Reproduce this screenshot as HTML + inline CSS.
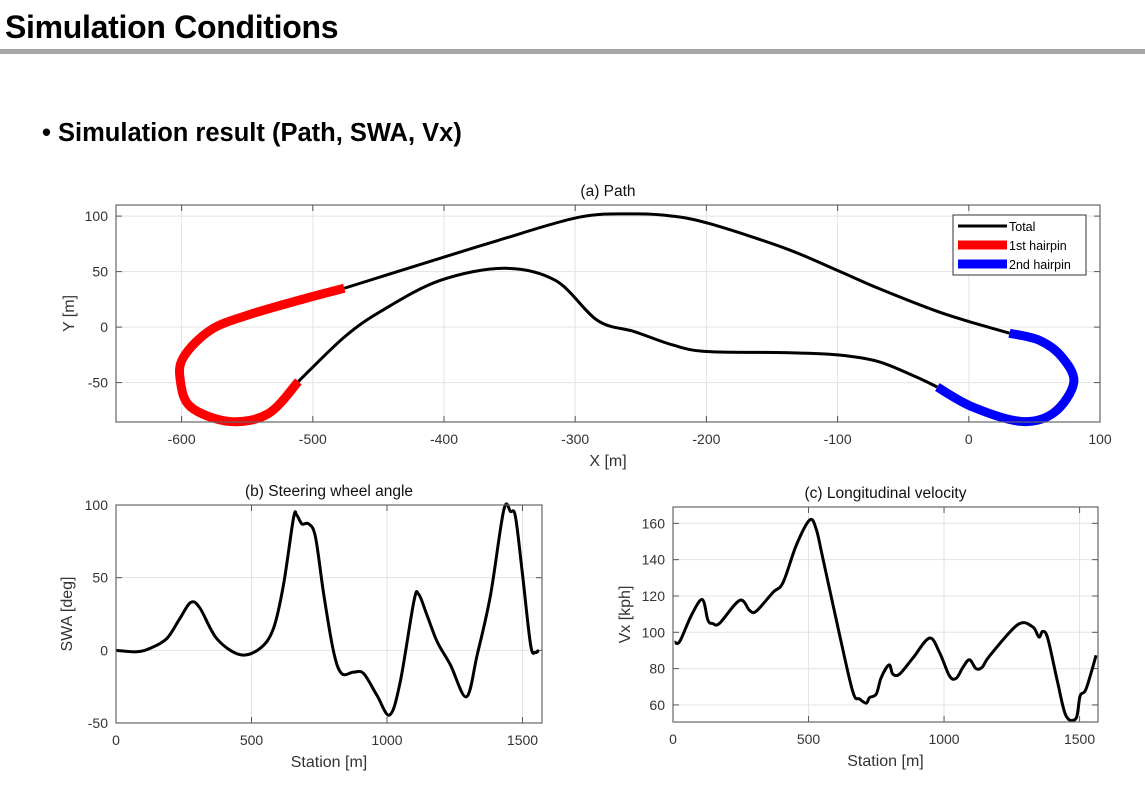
<!DOCTYPE html>
<html><head><meta charset="utf-8">
<style>
body{margin:0;width:1145px;height:806px;background:#fff;overflow:hidden;font-family:"Liberation Sans",Arial,sans-serif;}
#title{position:absolute;left:5px;top:9px;font-size:32px;font-weight:bold;color:#000;letter-spacing:-0.3px}
#bar{position:absolute;left:0;top:49px;width:1145px;height:5px;background:#a6a6a6}
#sub{position:absolute;left:42px;top:119px;font-size:25.5px;font-weight:bold;color:#000}
svg{position:absolute;left:0;top:0}
</style></head><body>
<div id="title">Simulation Conditions</div>
<div id="bar"></div>
<div id="sub">• Simulation result (Path, SWA, Vx)</div>
<svg id="svg" width="1145" height="806"></svg>
<script>
// Path data
const totalX=[0,-26,-69,-100,-140,-197,-226,-255,-297,-359,-403,-476];
const totalY=[5,15,35,51,71,93,100,102,99,78,62,35];
const hp1X=[-476,-505,-549,-578,-598.5,-601,-593,-563.5,-534,-511];
const hp1Y=[35,26,11,-2.7,-27,-48,-72,-85,-78,-49];
const lowerX=[-511,-476,-447,-403,-354,-315,-283,-255,-226,-200,-140,-100,-69,-40,-24];
const lowerY=[-49,-9,15,42,53,42,6,-4,-16,-22,-23,-25,-31,-45,-54];
const hp2X=[-24,3,40,65,80,71,54,31];
const hp2Y=[-54,-72,-85,-77,-50,-27,-12,-5.5];
const tail2X=[31,0];
const tail2Y=[-5.5,5];
const pathXTicks=[-600,-500,-400,-300,-200,-100,0,100];
const pathYTicks=[-50,0,50,100];
// SWA data
const swaS=[0,76,126,187,236,276,310,372,458,532,581,618,655,667,686,711,736,767,803,833,877,914,963,1010,1049,1099,1117,1148,1185,1234,1293,1333,1382,1431,1456,1474,1499,1530,1548,1560];
const swaV=[0,-1,1.4,8,22,33,29,8,-3,1.4,15,45,91,93,87,87,78,38,-1,-16,-15,-16,-31,-44.5,-21.6,33.5,38.6,24,6,-10,-32,-3,38,96.6,95.5,92,54,3.7,-1.4,0];
const swaXTicks=[0,500,1000,1500];
const swaYTicks=[-50,0,50,100];
// Vx data
const vxS=[6,25,68,108,129,147,172,246,283,307,369,406,455,504,528,553,615,664,688,713,725,750,768,797,811,836,885,946,983,1020,1045,1070,1094,1118,1141,1168,1272,1327,1350,1364,1383,1419,1450,1487,1502,1524,1561];
const vxV=[94.6,95,109.4,118,106.6,104.8,105,117.6,112,111.6,122,127.4,148,161.8,157,140.7,98.3,67,63.3,61,64,66,75,82,77,77,85.8,96.8,89,76,74.7,80.8,84.9,80,80.8,87,104.2,103,97.4,100.5,96.5,72.5,54,52.6,65,68.8,87.3];
const vxXTicks=[0,500,1000,1500];
const vxYTicks=[60,80,100,120,140,160];

const svg=document.getElementById('svg');
const NS='http://www.w3.org/2000/svg';
function mk(tag,attrs,parent){const e=document.createElementNS(NS,tag);for(const k in attrs)e.setAttribute(k,attrs[k]);(parent||svg).appendChild(e);return e;}
function axes(o){
  const g=mk('g',{});
  
  
  const sx=v=>o.l+(v-o.x0)/(o.x1-o.x0)*(o.r-o.l);
  const sy=v=>o.b-(v-o.y0)/(o.y1-o.y0)*(o.b-o.t);
  mk('rect',{x:o.l,y:o.t,width:o.r-o.l,height:o.b-o.t,fill:'#fff'},g);
  o.xt.forEach(v=>{const x=sx(v);
    const gl=mk('line',{x1:x,x2:x,y1:o.t,y2:o.b,stroke:'#e3e3e3','stroke-width':1},g);
    
    mk('line',{x1:x,x2:x,y1:o.b,y2:o.b-6,stroke:'#555'},g);
    mk('line',{x1:x,x2:x,y1:o.t,y2:o.t+6,stroke:'#555'},g);
    const t=mk('text',{x:x,y:o.b+22,'text-anchor':'middle','font-size':14,fill:'#333'},g);t.textContent=v;
    });
  o.yt.forEach(v=>{const y=sy(v);
    const gl=mk('line',{x1:o.l,x2:o.r,y1:y,y2:y,stroke:'#e3e3e3','stroke-width':1},g);
    
    mk('line',{x1:o.l,x2:o.l+6,y1:y,y2:y,stroke:'#555'},g);
    mk('line',{x1:o.r,x2:o.r-6,y1:y,y2:y,stroke:'#555'},g);
    const t=mk('text',{x:o.l-8,y:y+5,'text-anchor':'end','font-size':14,fill:'#333'},g);t.textContent=v;
    });
  const tt=mk('text',{x:(o.l+o.r)/2,y:o.t-9,'text-anchor':'middle','font-size':15.5,fill:'#111'},g);tt.textContent=o.title;
  
  const xl=mk('text',{x:(o.l+o.r)/2,y:o.b+44,'text-anchor':'middle','font-size':16,fill:'#333'},g);xl.textContent=o.xl;
  
  const cy=(o.t+o.b)/2;
  const yl=mk('text',{x:o.ylx,y:cy,'text-anchor':'middle','font-size':16,fill:'#333',transform:`rotate(-90 ${o.ylx} ${cy})`},g);yl.textContent=o.yl;
  
  o.sx=sx;o.sy=sy;o.g=g;return o;
}
function smoothPath(pts){
  if(pts.length<3)return 'M'+pts.map(p=>p.join(',')).join(' L');
  let d='M'+pts[0][0]+','+pts[0][1];
  for(let i=0;i<pts.length-1;i++){
    const p0=pts[i-1]||pts[i],p1=pts[i],p2=pts[i+1],p3=pts[i+2]||p2;
    const c1=[p1[0]+(p2[0]-p0[0])/6,p1[1]+(p2[1]-p0[1])/6];
    const c2=[p2[0]-(p3[0]-p1[0])/6,p2[1]-(p3[1]-p1[1])/6];
    d+=` C${c1[0]},${c1[1]} ${c2[0]},${c2[1]} ${p2[0]},${p2[1]}`;
  }
  return d;
}
function line(o,xs,ys,color,w,name){
  const pts=xs.map((x,i)=>[o.sx(x),o.sy(ys[i])]);
  const p=mk('path',{d:smoothPath(pts),fill:'none',stroke:color,'stroke-width':w,'stroke-linejoin':'round','stroke-linecap':'butt'},o.g);
  
}
function frame(o){mk('rect',{x:o.l,y:o.t,width:o.r-o.l,height:o.b-o.t,fill:'none',stroke:'#666','stroke-width':1.2},o.g);}

const A=axes({name:'path-chart',l:116,r:1100,t:205,b:422,x0:-650,x1:100,y0:-85.5,y1:110,xt:pathXTicks,yt:pathYTicks,title:'(a) Path',xl:'X [m]',yl:'Y [m]',ylx:74});
line(A,totalX,totalY,'#000',3,'total-path-upper');
line(A,lowerX,lowerY,'#000',3,'total-path-lower');
line(A,tail2X,tail2Y,'#000',3,'total-path-tail');
line(A,hp1X,hp1Y,'#ff0000',9,'first-hairpin');
line(A,hp2X,hp2Y,'#0000ff',9,'second-hairpin');
frame(A);
// legend
const lg=mk('g',{});


mk('rect',{x:953,y:215,width:133,height:60,fill:'#fff',stroke:'#333','stroke-width':1},lg);
[['Total','#000',3],['1st hairpin','#ff0000',9],['2nd hairpin','#0000ff',9]].forEach((d,i)=>{
  const y=226+i*19;
  const e=mk('g',{},lg);
  
  
  mk('line',{x1:958,x2:1007,y1:y,y2:y,stroke:d[1],'stroke-width':d[2]},e);
  const t=mk('text',{x:1009,y:y+5,'font-size':12.5,fill:'#000'},e);t.textContent=d[0];
});

const B=axes({name:'swa-chart',l:116,r:542,t:505,b:723,x0:0,x1:1572,y0:-50,y1:100,xt:swaXTicks,yt:swaYTicks,title:'(b) Steering wheel angle',xl:'Station [m]',yl:'SWA [deg]',ylx:72});
line(B,swaS,swaV,'#000',3,'swa-line');
frame(B);

const C=axes({name:'vx-chart',l:673,r:1098,t:507,b:722,x0:0,x1:1568,y0:50.6,y1:169,xt:vxXTicks,yt:vxYTicks,title:'(c) Longitudinal velocity',xl:'Station [m]',yl:'Vx [kph]',ylx:630});
line(C,vxS,vxV,'#000',3,'vx-line');
frame(C);
</script>
</body></html>
